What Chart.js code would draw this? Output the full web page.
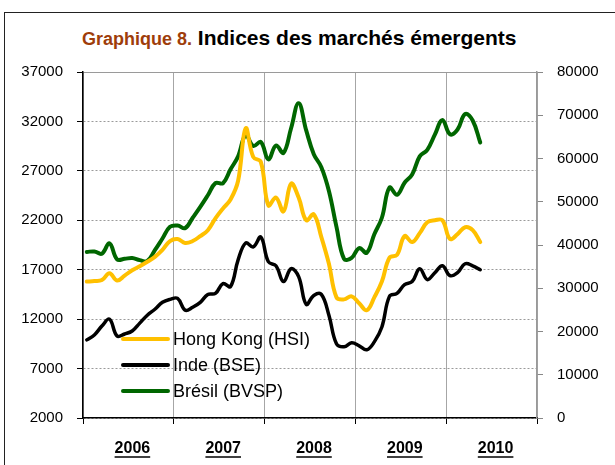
<!DOCTYPE html>
<html lang="fr">
<head>
<meta charset="utf-8">
<script src="https://cdn.jsdelivr.net/npm/chart.js@4.4.1/dist/chart.umd.min.js"></script>
<style>
  body { margin: 0; background: #fff; }
  #cadre {
    position: absolute; left: 4px; top: 12px; width: 700px; height: 600px;
    border-left: 1px solid #222; border-top: 1px solid #222;
  }
  #titre {
    position: absolute; left: 82px; top: 26px; white-space: nowrap;
    font-family: "Liberation Sans", Arial, sans-serif; font-weight: bold;
    font-size: 21px; line-height: 24px;
  }
  #titre .num { color: #9e3d0a; font-size: 18px; }
  #graphique { position: absolute; left: 0; top: 0; }
</style>
</head>
<body>
<div id="cadre"></div>
<div id="titre"><span class="num">Graphique 8.</span> Indices des marchés émergents</div>
<canvas id="graphique" width="615" height="465"></canvas>
<script>
// Années affichées sous l'axe (une par an, données mensuelles jan 2006 - mai 2010)
const annees = ['2006', '2007', '2008', '2009', '2010'];

// Hong Kong (HSI) - axe de gauche
const hongKong = [
  15800, 15850, 15950, 16650, 15900, 16400, 16950, 17350, 17800, 18300, 19000, 19900,
  20100, 19700, 19900, 20400, 21000, 22200, 23200, 24100, 26000, 31300, 28400, 27900,
  23500, 24300, 22900, 25700, 24300, 22000, 22600, 20300, 17600, 14200, 14000, 14300,
  13600, 12900, 14200, 15800, 18200, 18500, 20400, 19800, 20700, 21800, 22000, 22000,
  20100, 20600, 21300, 21000, 19800
];

// Inde (BSE) - axe de gauche
const inde = [
  9900, 10400, 11300, 12000, 10300, 10500, 10800, 11600, 12400, 13000, 13700, 14000,
  14100, 12900, 13200, 13700, 14500, 14600, 15600, 15300, 18000, 19700, 19300, 20300,
  17800, 17400, 15800, 17100, 16300, 13500, 14400, 14500, 12400, 9500, 9200, 9600,
  9300, 8900, 9700, 11200, 14300, 14600, 15500, 15800, 17100, 16000, 16700, 17400,
  16400, 16700, 17600, 17400, 17000
];

// Brésil (BVSP) - axe de droite
const bresil = [
  38400, 38500, 38000, 40400, 36700, 36800, 37000, 36500, 36300, 38800, 41500, 44200,
  44500, 43900, 46300, 48800, 51500, 54300, 54300, 57500, 60500, 65400, 62900, 63800,
  59800, 63000, 61300, 67000, 72800, 66500, 61000, 58000, 52500, 44200, 36800, 37000,
  39300, 38200, 42500, 46300, 53300, 51600, 54400, 56300, 60500, 62000, 65500, 68900,
  65600, 66700, 70300, 68800, 63700
];

// bornes des axes
const gaucheMin = 2000, gaucheMax = 37000, gauchePas = 5000;
const droiteMin = 0, droiteMax = 80000, droitePas = 10000;

const police = '"Liberation Sans", Arial, sans-serif';
Chart.defaults.font.family = police;
Chart.defaults.font.size = 15;
Chart.defaults.color = '#000';

function enPoints(valeurs) {
  return valeurs.map((v, i) => ({ x: i + 0.5, y: v }));
}

// Légende dessinée à l'intérieur du graphique, en bas à gauche
const legendeInterne = {
  id: 'legendeInterne',
  afterDraw(chart) {
    const ctx = chart.ctx;
    const zone = chart.chartArea;
    ctx.save();
    ctx.font = '18px ' + police;
    ctx.textBaseline = 'middle';
    chart.data.datasets.forEach((ds, i) => {
      const y = zone.bottom - 79 + i * 26;
      ctx.strokeStyle = ds.borderColor;
      ctx.lineWidth = 4;
      ctx.lineCap = 'round';
      ctx.beginPath();
      ctx.moveTo(zone.left + 40, y);
      ctx.lineTo(zone.left + 85, y);
      ctx.stroke();
      ctx.fillStyle = '#000';
      ctx.fillText(ds.label, zone.left + 90, y + 1);
    });
    ctx.restore();
  }
};

// Soulignement des années
const soulignement = {
  id: 'soulignement',
  afterDraw(chart) {
    const sx = chart.scales.x;
    const ctx = chart.ctx;
    ctx.save();
    ctx.font = 'bold 16px ' + police;
    ctx.strokeStyle = '#000';
    ctx.lineWidth = 1.5;
    annees.forEach((an, j) => {
      const x = sx.getPixelForValue(j * 12 + 6) + 4;
      const w = ctx.measureText(an).width;
      const y = sx.top + 39;
      ctx.beginPath();
      ctx.moveTo(x - w / 2, y);
      ctx.lineTo(x + w / 2, y);
      ctx.stroke();
    });
    ctx.restore();
  }
};

const ctx = document.getElementById('graphique').getContext('2d');
const graphique = new Chart(ctx, {
  type: 'line',
  data: {
    datasets: [
      {
        label: 'Hong Kong (HSI)',
        data: enPoints(hongKong),
        borderColor: '#ffc000',
        borderWidth: 4,
        yAxisID: 'y'
      },
      {
        label: 'Inde (BSE)',
        data: enPoints(inde),
        borderColor: '#000000',
        borderWidth: 3.5,
        yAxisID: 'y'
      },
      {
        label: 'Brésil (BVSP)',
        data: enPoints(bresil),
        borderColor: '#006600',
        borderWidth: 4,
        yAxisID: 'y2'
      }
    ]
  },
  options: {
    responsive: false,
    animation: false,
    devicePixelRatio: 1,
    layout: { padding: { top: 72, left: 0, right: 0, bottom: 0 } },
    elements: {
      point: { radius: 0 },
      line: { tension: 0.4, borderCapStyle: 'round', borderJoinStyle: 'round' }
    },
    plugins: {
      legend: { display: false },
      tooltip: { enabled: false },
      title: { display: false }
    },
    scales: {
      x: {
        type: 'linear',
        min: 0,
        max: annees.length * 12,
        afterFit: s => { s.height = 47; },
        ticks: {
          stepSize: 6,
          autoSkip: false,
          maxRotation: 0,
          padding: 15,
          labelOffset: 4,
          font: { size: 16, weight: 'bold' },
          callback: v => (v % 12 === 6 ? annees[(v - 6) / 12] : '')
        },
        grid: {
          color: c => (c.tick && c.tick.value % 12 === 0 ? '#a6a6a6' : 'rgba(0,0,0,0)'),
          tickColor: c => (c.tick && c.tick.value % 12 === 0 ? '#000' : 'rgba(0,0,0,0)'),
          tickLength: 6
        },
        border: { color: '#000', width: 1.5 }
      },
      y: {
        position: 'left',
        min: gaucheMin,
        max: gaucheMax,
        afterFit: s => { s.width = 83; },
        ticks: { stepSize: gauchePas, padding: 14, callback: v => String(v) },
        grid: {
          color: '#9a9a9a',
          tickColor: '#000',
          tickLength: 6
        },
        border: {
          color: '#000',
          width: 1.5,
          dash: c => (c.tick && c.tick.value === gaucheMax ? [] : [2, 2])
        }
      },
      y2: {
        position: 'right',
        min: droiteMin,
        max: droiteMax,
        afterFit: s => { s.width = 78; },
        ticks: { stepSize: droitePas, padding: 14, callback: v => String(v) },
        grid: {
          drawOnChartArea: false,
          tickColor: '#888',
          tickLength: 6
        },
        border: { color: '#999', width: 1.5 }
      }
    }
  },
  plugins: [legendeInterne, soulignement]
});
</script>
</body>
</html>
